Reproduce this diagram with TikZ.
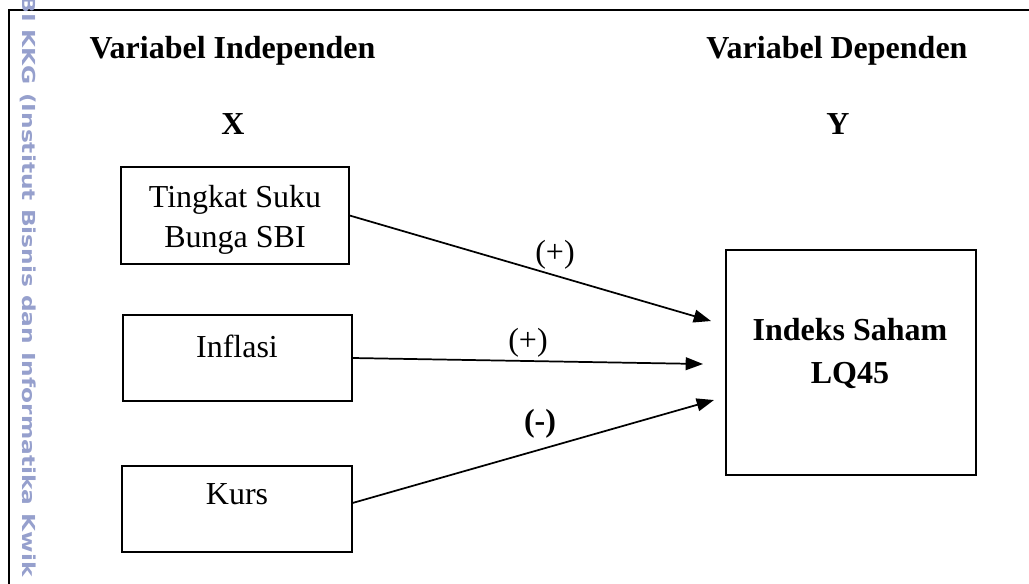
\documentclass[tikz,border=0pt]{standalone}
\usepackage{graphicx}
\usepackage{fontspec}
\setmainfont{Liberation Serif}
\newfontfamily\wmfont{DejaVu Sans}
\usetikzlibrary{arrows.meta}
\definecolor{wmcol}{RGB}{150,160,205}
\begin{document}
\begin{tikzpicture}[x=0.375pt,y=-0.375pt,
  box/.style={draw,line width=0.5pt,inner sep=0pt},
  txt/.style={font=\fontsize{12}{15}\selectfont,anchor=base,inner sep=0pt},
  btxt/.style={font=\fontsize{12}{15}\selectfont\bfseries,anchor=base,inner sep=0pt},
  arr/.style={line width=0.65pt,-{Triangle[length=6.5pt,width=4.8pt]}}]
\useasboundingbox (0,0) rectangle (1029,583);
\fill[white] (0,0) rectangle (1029,583);
% outer frame
\draw[line width=0.8pt] (9,600) -- (9,10) -- (1040,10);
% watermark
\node[rotate=-90,text=wmcol,inner sep=0pt] (wm) at (28,286) {\resizebox{218pt}{5.1pt}{\wmfont\bfseries BI KKG (Institut Bisnis dan Informatika Kwik}};
% titles
\node[btxt] (tind) at (232.5,58) {Variabel Independen};
\node[btxt] (tdep) at (837,58) {Variabel Dependen};
\node[btxt] (tx) at (233,134) {X};
\node[btxt] (ty) at (838,134) {Y};
% boxes
\node[box,minimum width=85.5pt,minimum height=36.4pt] (b1) at (235,215.5) {};
\node[box,minimum width=85.9pt,minimum height=32.25pt] (b2) at (237.5,358) {};
\node[box,minimum width=86.25pt,minimum height=32.25pt] (b3) at (237,509) {};
\node[box,minimum width=93.75pt,minimum height=84.4pt] (dep) at (851,362.5) {};
% box texts
\node[txt] (b1a) at (235,207) {Tingkat Suku};
\node[txt] (b1b) at (235,247) {Bunga SBI};
\node[txt] (b2a) at (237,357) {Inflasi};
\node[txt] (b3a) at (237,504) {Kurs};
\node[btxt] (da) at (850,340) {Indeks Saham};
\node[btxt] (db) at (850,383) {LQ45};
% arrows
\coordinate (h1) at (711,321);
\coordinate (h2) at (703,364);
\coordinate (h3) at (714,400);
\draw[arr] (b1.east) -- (h1);
\draw[arr] (b2.east) -- (h2);
\draw[arr] (b3.3.5) -- (h3);
% labels
\node[txt] (l1) at (555,262) {(+)};
\node[txt] (l2) at (528,350) {(+)};
\node[btxt] (l3) at (540,431) {(-)};
\end{tikzpicture}
\end{document}
